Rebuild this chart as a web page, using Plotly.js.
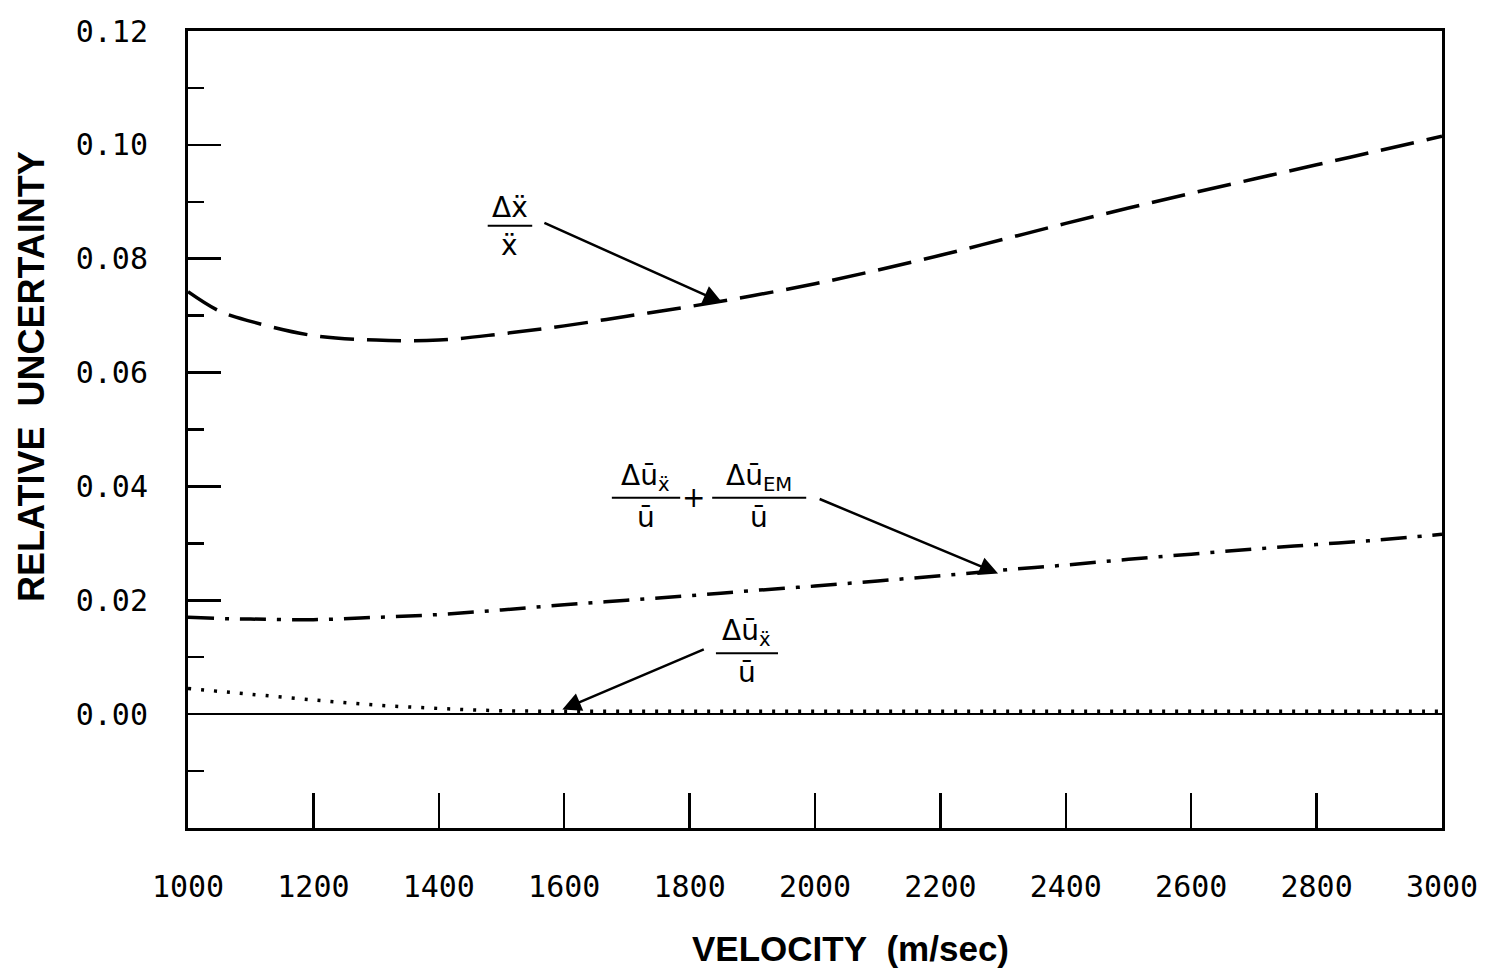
<!DOCTYPE html>
<html>
<head>
<meta charset="utf-8">
<script src="https://cdn.plot.ly/plotly-3.0.1.min.js"></script>
<style>html,body{margin:0;padding:0;background:#fff;}#chart{width:1492px;height:971px;}</style>
</head>
<body>
<div id="chart"></div>
<script>
// ---- data ----
const velocity = [1000,1050,1100,1200,1300,1400,1500,1600,1700,1800,1900,2000,2100,2200,2300,2400,2500,2600,2700,2800,2900,3000];
const accelUncertainty = [0.0742,0.0708,0.0690,0.0665,0.0657,0.0657,0.0668,0.0682,0.0699,0.0716,0.0735,0.0756,0.0780,0.0806,0.0834,0.0862,0.0889,0.0915,0.0940,0.0965,0.0990,0.1015];
const combinedUncertainty = [0.0170,0.0168,0.0167,0.0166,0.0170,0.0175,0.0183,0.0192,0.0200,0.0208,0.0217,0.0225,0.0234,0.0243,0.0253,0.0262,0.0272,0.0281,0.0290,0.0298,0.0306,0.0316];
const velocityUncertainty = [0.0045,0.0040,0.0035,0.0025,0.0016,0.0010,0.0006,0.0005,0.0005,0.0005,0.0005,0.0005,0.0005,0.0005,0.0005,0.0005,0.0005,0.0005,0.0005,0.0005,0.0005,0.0005];
const xTickVals = [1000,1200,1400,1600,1800,2000,2200,2400,2600,2800,3000];
const xTickText = ['1000','1200','1400','1600','1800','2000','2200','2400','2600','2800','3000'];
const yTickVals = [0,0.02,0.04,0.06,0.08,0.10,0.12];
const yTickText = ['0.00','0.02','0.04','0.06','0.08','0.10','0.12'];

const traces = [
  {x: velocity, y: accelUncertainty, mode:'lines', name:'Δẍ/ẍ',
   line:{color:'#000', width:3.5, dash:'34px,13px', shape:'spline'}},
  {x: velocity, y: combinedUncertainty, mode:'lines', name:'Δū_ẍ/ū + Δū_EM/ū',
   line:{color:'#000', width:3.5, dash:'26px,11px,4px,11px', shape:'spline'}},
  {x: velocity, y: velocityUncertainty, mode:'lines', name:'Δū_ẍ/ū',
   line:{color:'#000', width:3.5, dash:'3px,10px', shape:'spline'}}
];

const labelFont = {family:'DejaVu Sans, Liberation Sans, sans-serif', size:28, color:'#000'};
function frac(xc, ybar, num, den) {
  return [
    {x:xc, y:ybar, xref:'x', yref:'y', text:num, showarrow:false, xanchor:'center', yanchor:'bottom', yshift:0, font:labelFont},
    {x:xc, y:ybar, xref:'x', yref:'y', text:den, showarrow:false, xanchor:'center', yanchor:'top', yshift:-1, font:labelFont}
  ];
}
const annotations = [].concat(
  frac(1513, 0.0858, 'Δẍ', 'ẍ'),
  frac(1730, 0.0380, 'Δū<sub>ẍ</sub>', 'ū'),
  frac(1911, 0.0380, 'Δū<sub>EM</sub>', 'ū'),
  frac(1891, 0.0107, 'Δū<sub>ẍ</sub>', 'ū'),
  [
    {x:1807, y:0.0380, xref:'x', yref:'y', text:'+', showarrow:false, xanchor:'center', yanchor:'middle', font:labelFont},
    // arrows
    {x:1852, y:0.0723, ax:1566, ay:0.0864, xref:'x', yref:'y', axref:'x', ayref:'y', text:'', showarrow:true, arrowhead:2, arrowsize:1.5, arrowwidth:2.5, arrowcolor:'#000'},
    {x:2292, y:0.0247, ax:2005, ay:0.0379, xref:'x', yref:'y', axref:'x', ayref:'y', text:'', showarrow:true, arrowhead:2, arrowsize:1.5, arrowwidth:2.5, arrowcolor:'#000'},
    {x:1597, y:0.0008, ax:1825, ay:0.0115, xref:'x', yref:'y', axref:'x', ayref:'y', text:'', showarrow:true, arrowhead:2, arrowsize:1.5, arrowwidth:2.5, arrowcolor:'#000'},
    // axis titles
    {x:0.5287, y:-0.1769, xref:'paper', yref:'paper', text:'VELOCITY\u00a0\u00a0(m/sec)', showarrow:false, xanchor:'center', yanchor:'bottom', borderpad:0,
     font:{family:'Liberation Sans, Arial, sans-serif', size:35, color:'#000', weight:'bold'}},
    {x:-0.1244, y:0.566, xref:'paper', yref:'paper', text:'RELATIVE\u00a0\u00a0UNCERTAINTY', showarrow:false, textangle:-90, xanchor:'center', yanchor:'middle',
     font:{family:'Liberation Sans, Arial, sans-serif', size:36, color:'#000', weight:'bold'}}
  ]
);

const shapes = [
  {type:'line', xref:'x', yref:'y', x0:1478, x1:1549, y0:0.0858, y1:0.0858, line:{color:'#000', width:2}},
  {type:'line', xref:'x', yref:'y', x0:1676, x1:1785, y0:0.0380, y1:0.0380, line:{color:'#000', width:2}},
  {type:'line', xref:'x', yref:'y', x0:1836, x1:1986, y0:0.0380, y1:0.0380, line:{color:'#000', width:2}},
  {type:'line', xref:'x', yref:'y', x0:1842, x1:1941, y0:0.0107, y1:0.0107, line:{color:'#000', width:2}}
];

const tickFont = {family:'DejaVu Sans Mono, Liberation Mono, monospace', size:30, color:'#000'};
const layout = {
  width:1492, height:971,
  margin:{l:188, r:50, t:31, b:143, pad:0},
  paper_bgcolor:'#fff', plot_bgcolor:'#fff',
  showlegend:false,
  xaxis:{range:[1000,3000], tickmode:'array', tickvals:xTickVals, ticktext:xTickText,
    ticks:'inside', ticklen:35, tickwidth:2.5, tickcolor:'#000',
    showline:true, linecolor:'#000', linewidth:3, mirror:true,
    showgrid:false, zeroline:false, tickfont:tickFont, ticklabelstandoff:30},
  yaxis:{range:[-0.02,0.12], tickmode:'array', tickvals:yTickVals, ticktext:yTickText,
    ticks:'inside', ticklen:33, tickwidth:2.5, tickcolor:'#000',
    minor:{ticks:'inside', ticklen:16, tickwidth:2.5, tickcolor:'#000', dtick:0.01, tick0:0, showgrid:false},
    showline:true, linecolor:'#000', linewidth:3, mirror:true,
    showgrid:false, zeroline:true, zerolinecolor:'#000', zerolinewidth:2,
    tickfont:tickFont, ticklabelstandoff:31},
  annotations: annotations,
  shapes: shapes
};

Plotly.newPlot('chart', traces, layout, {displayModeBar:false, staticPlot:true});
</script>
</body>
</html>
